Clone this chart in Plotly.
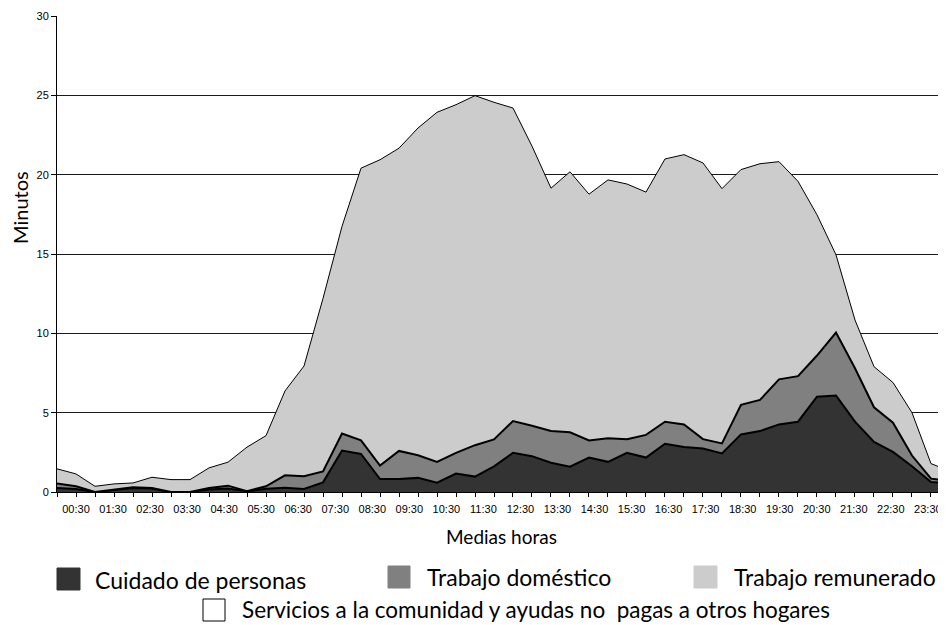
import plotly.graph_objects as go

# ---------------- data ----------------
halfhours = ["00:00", "00:30", "01:00", "01:30", "02:00", "02:30", "03:00", "03:30",
             "04:00", "04:30", "05:00", "05:30", "06:00", "06:30", "07:00", "07:30",
             "08:00", "08:30", "09:00", "09:30", "10:00", "10:30", "11:00", "11:30",
             "12:00", "12:30", "13:00", "13:30", "14:00", "14:30", "15:00", "15:30",
             "16:00", "16:30", "17:00", "17:30", "18:00", "18:30", "19:00", "19:30",
             "20:00", "20:30", "21:00", "21:30", "22:00", "22:30", "23:00", "23:30"]

tick_labels = ["00:30", "01:30", "02:30", "03:30", "04:30", "05:30", "06:30", "07:30",
               "08:30", "09:30", "10:30", "11:30", "12:30", "13:30", "14:30", "15:30",
               "16:30", "17:30", "18:30", "19:30", "20:30", "21:30", "22:30", "23:30"]

cuidado = [0.25, 0.19, 0.00, 0.12, 0.25, 0.22, 0.00, 0.00, 0.15, 0.22,
           0.04, 0.20, 0.27, 0.19, 0.61, 2.61, 2.40, 0.82, 0.82, 0.89,
           0.59, 1.16, 0.97, 1.62, 2.47, 2.26, 1.84, 1.60, 2.17, 1.90,
           2.47, 2.17, 3.04, 2.83, 2.74, 2.43, 3.63, 3.84, 4.26, 4.43,
           6.01, 6.08, 4.43, 3.16, 2.53, 1.62, 0.63, 0.55]

domestico = [0.28, 0.17, 0.00, 0.03, 0.05, 0.03, 0.00, 0.00, 0.10, 0.18,
             0.01, 0.16, 0.78, 0.80, 0.69, 1.07, 0.85, 0.85, 1.77, 1.43,
             1.31, 1.31, 1.98, 1.69, 2.00, 1.92, 2.00, 2.16, 1.08, 1.48,
             0.86, 1.43, 1.39, 1.43, 0.59, 0.63, 1.86, 1.96, 2.84, 2.87,
             2.59, 3.97, 3.37, 2.18, 1.84, 0.68, 0.21, 0.16]

remunerado = [0.93, 0.78, 0.36, 0.36, 0.27, 0.68, 0.78, 0.78, 1.27, 1.48,
              2.78, 3.19, 5.32, 6.95, 10.90, 13.06, 17.16, 19.27, 19.08, 20.62,
              22.03, 21.94, 22.03, 21.25, 19.73, 17.62, 15.31, 16.42, 15.52, 16.29,
              16.08, 15.30, 16.56, 17.00, 17.41, 16.06, 14.83, 14.89, 13.72, 12.28,
              8.87, 4.90, 3.04, 2.56, 2.53, 2.70, 0.95, 0.60]

servicios = [0, 0, 0, 0, 0, 0, 0, 0, 0, 0, 0, 0, 0, 0, 0, 0,
             0, 0, 0, 0, 0, 0, 0, 0, 0, 0, 0, 0, 0, 0, 0, 0,
             0, 0, 0, 0, 0, 0, 0, 0, 0, 0, 0, 0, 0, 0, 0, 0]

series_names = ["Cuidado de personas", "Trabajo doméstico", "Trabajo remunerado",
                "Servicios a la comunidad y ayudas no  pagas a otros hogares"]
y_ticks = [0, 5, 10, 15, 20, 25, 30]

# ---------------- layout helpers ----------------
# the page body has an 8px margin, so the figure is drawn 8px right/down
OFF = 8
W, H = 946 - OFF, 625 - OFF
PL, PR, PT, PB = 57 - OFF, 0, 16 - OFF, 133
X0, X1 = 57, 946          # plot area in page pixels
Y0, Y1 = 16, 492


def px(x):
    return (x - X0) / (X1 - X0)


def py(y):
    return (Y1 - y) / (Y1 - Y0)


fills = ["#333333", "#808080", "#cccccc", "#ffffff"]
widths = [2, 2, 1, 0]
values = [cuidado, domestico, remunerado, servicios]

fig = go.Figure()
for name, vals, fc, lw in zip(series_names, values, fills, widths):
    fig.add_trace(go.Scatter(
        x=halfhours, y=vals, name=name, mode="lines", stackgroup="one",
        fillcolor=fc, line=dict(color="#000000", width=lw), showlegend=False,
        hoverinfo="x+y+name"))

# invisible trace carrying the label axis
fig.add_trace(go.Scatter(x=halfhours, y=[None] * len(halfhours), xaxis="x2",
                         mode="lines", showlegend=False, hoverinfo="skip"))

tickfont = dict(family="Liberation Sans, Arial, sans-serif", size=11, color="#000000")
textfont = dict(family="Lato, sans-serif", size=23, color="#000000")

fig.update_layout(
    width=W, height=H,
    margin=dict(l=PL, r=PR, t=PT, b=PB, pad=0),
    paper_bgcolor="#ffffff", plot_bgcolor="#ffffff",
    showlegend=False,
    xaxis=dict(type="category", range=[0, 46.79], showline=True, linecolor="#000000",
               linewidth=1, ticks="outside", ticklen=4, tickcolor="#000000",
               tickmode="linear", dtick=1, showticklabels=False, showgrid=False,
               zeroline=False, fixedrange=True),
    xaxis2=dict(type="category", overlaying="x", anchor="y", side="bottom",
                range=[-0.026, 47.98], tickmode="array", tickvals=tick_labels,
                ticktext=tick_labels, ticks="outside", ticklen=7,
                tickcolor="rgba(0,0,0,0)", tickfont=tickfont, showgrid=False,
                showline=False, zeroline=False, fixedrange=True),
    yaxis=dict(range=[0, 30], tickvals=y_ticks, showgrid=True, gridcolor="#1a1a1a",
               gridwidth=1, showline=True, linecolor="#000000", linewidth=1,
               ticks="outside", ticklen=5, tickcolor="#000000", tickfont=tickfont,
               zeroline=False, fixedrange=True),
)

annotations = [
    dict(text="Medias horas", x=px(501), y=py(536), xref="paper", yref="paper",
         showarrow=False, xanchor="center", yanchor="middle", font=dict(textfont, size=19)),
    dict(text="Minutos", x=px(20), y=py(208), xref="paper", yref="paper", textangle=-90,
         showarrow=False, xanchor="center", yanchor="middle", font=dict(textfont, size=20)),
]

legend_items = [
    # (square x0, x1, y0, y1, text x, text y, font size) in page pixels
    (57, 80, 568, 590, 93, 580, 23),
    (388, 410, 566, 588, 425, 577, 23),
    (694, 717, 566, 588, 732, 577, 23),
    (203, 225, 599, 621, 240, 609, 22.5),
]
shapes = []
for (x0, x1, y0, y1, tx, ty, fs), name, fc in zip(legend_items, series_names, fills):
    shapes.append(dict(type="rect", xref="paper", yref="paper",
                       x0=px(x0), x1=px(x1), y0=py(y1), y1=py(y0),
                       fillcolor=fc,
                       line=dict(color="#000000" if fc == "#ffffff" else fc, width=1)))
    annotations.append(dict(text=name.replace("  ", "&nbsp; "), x=px(tx), y=py(ty),
                            xref="paper", yref="paper", showarrow=False,
                            xanchor="left", yanchor="middle",
                            font=dict(textfont, size=fs)))

fig.update_layout(annotations=annotations, shapes=shapes)

fig.write_html("out.html")
